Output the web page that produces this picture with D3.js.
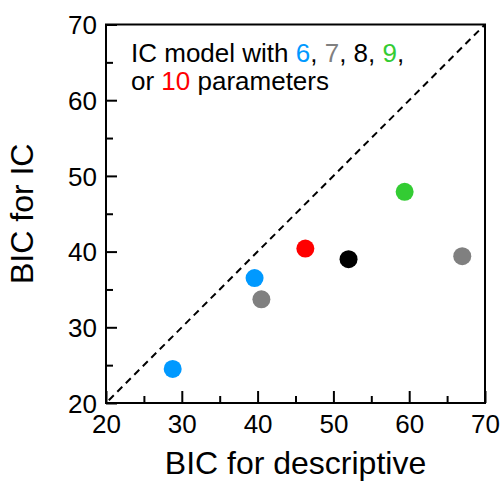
<!DOCTYPE html>
<html>
<head>
<meta charset="utf-8">
<script src="https://cdn.jsdelivr.net/npm/d3@7"></script>
<style>
  body { margin: 0; background: #fff; }
  svg text { font-family: "Liberation Sans", Arial, Helvetica, sans-serif; }
</style>
</head>
<body>
<div id="chart"></div>
<script>
// data
const bicDescriptive = [28.8, 39.6, 40.5, 46.3, 52.0, 59.4, 67.0];
const bicIC          = [24.5, 36.5, 33.7, 40.4, 39.0, 47.9, 39.4];
const nParams        = [6, 6, 7, 10, 8, 9, 7];

const paramColor = d3.scaleOrdinal()
    .domain([6, 7, 8, 9, 10])
    .range(["#0099ff", "#808080", "#000000", "#33cc33", "#ff0000"]);

const majorTicks = [20, 30, 40, 50, 60, 70];
const minorTicks = [25, 35, 45, 55, 65];

// set up margins and dimensions
const svgWidth = 500,
    svgHeight = 482,
    margin = { top: 24.5, right: 15, bottom: 79, left: 106 },
    width = svgWidth - margin.left - margin.right,
    height = svgHeight - margin.top - margin.bottom;

const x = d3.scaleLinear().domain([20, 70]).range([0, width]);
const y = d3.scaleLinear().domain([20, 70]).range([height, 0]);

const svg = d3.select("#chart")
    .append("svg")
    .attr("width", svgWidth)
    .attr("height", svgHeight);

const g = svg.append("g")
    .attr("transform", `translate(${margin.left},${margin.top})`);

// clip for the diagonal
g.append("clipPath").attr("id", "plot-clip")
    .append("rect").attr("width", width).attr("height", height);

// dashed identity line
g.append("line")
    .attr("clip-path", "url(#plot-clip)")
    .attr("x1", x(20)).attr("y1", y(20))
    .attr("x2", x(70)).attr("y2", y(70))
    .attr("stroke", "#000")
    .attr("stroke-width", 2)
    .attr("stroke-dasharray", "7,5")
    .attr("stroke-dashoffset", -4);

// frame
g.append("rect")
    .attr("width", width)
    .attr("height", height)
    .attr("fill", "none")
    .attr("stroke", "#000")
    .attr("stroke-width", 2);

// bottom axis, ticks pointing inward
const xAxis = g.append("g")
    .attr("transform", `translate(0,${height})`)
    .call(d3.axisBottom(x).tickValues(majorTicks).tickSizeInner(-12).tickSizeOuter(0).tickPadding(12));
g.append("g")
    .attr("transform", `translate(0,${height})`)
    .call(d3.axisBottom(x).tickValues(minorTicks).tickSizeInner(-7).tickSizeOuter(0).tickFormat(""));

// left axis
const yAxis = g.append("g")
    .call(d3.axisLeft(y).tickValues(majorTicks).tickSizeInner(-11).tickSizeOuter(0).tickPadding(9));
g.append("g")
    .call(d3.axisLeft(y).tickValues(minorTicks).tickSizeInner(-7).tickSizeOuter(0).tickFormat(""));

g.selectAll(".domain").remove();
g.selectAll(".tick line").attr("stroke", "#000").attr("stroke-width", 2);
g.selectAll(".tick text")
    .attr("fill", "#000")
    .style("font-size", "26px")
    .style("font-family", "'Liberation Sans', Arial, sans-serif");
xAxis.selectAll(".tick text").attr("dy", "0.68em");
yAxis.selectAll(".tick text").attr("dy", "0.36em");

// points
g.selectAll("circle")
    .data(bicDescriptive.map((d, i) => ({ x: d, y: bicIC[i], p: nParams[i] })))
    .join("circle")
    .attr("cx", d => x(d.x))
    .attr("cy", d => y(d.y))
    .attr("r", 9)
    .attr("fill", d => paramColor(d.p));

// legend text
const legend = svg.append("text")
    .attr("x", 131)
    .attr("y", 62)
    .style("font-size", "26px");
const line1 = [["IC model with ", 8], ["6", 6], [", ", 8], ["7", 7], [", 8, ", 8], ["9", 9], [",", 8]];
line1.forEach(([t, p]) => legend.append("tspan").attr("fill", paramColor(p)).text(t));
const legend2 = svg.append("text")
    .attr("x", 131)
    .attr("y", 90)
    .style("font-size", "26px");
[["or ", 8], ["10", 10], [" parameters", 8]]
    .forEach(([t, p]) => legend2.append("tspan").attr("fill", paramColor(p)).text(t));

// axis titles
svg.append("text")
    .attr("x", margin.left + width / 2)
    .attr("y", 474)
    .attr("text-anchor", "middle")
    .style("font-size", "32px")
    .text("BIC for descriptive");

svg.append("text")
    .attr("transform", `translate(33,${margin.top + height / 2}) rotate(-90)`)
    .attr("text-anchor", "middle")
    .style("font-size", "32px")
    .text("BIC for IC");
</script>
</body>
</html>
